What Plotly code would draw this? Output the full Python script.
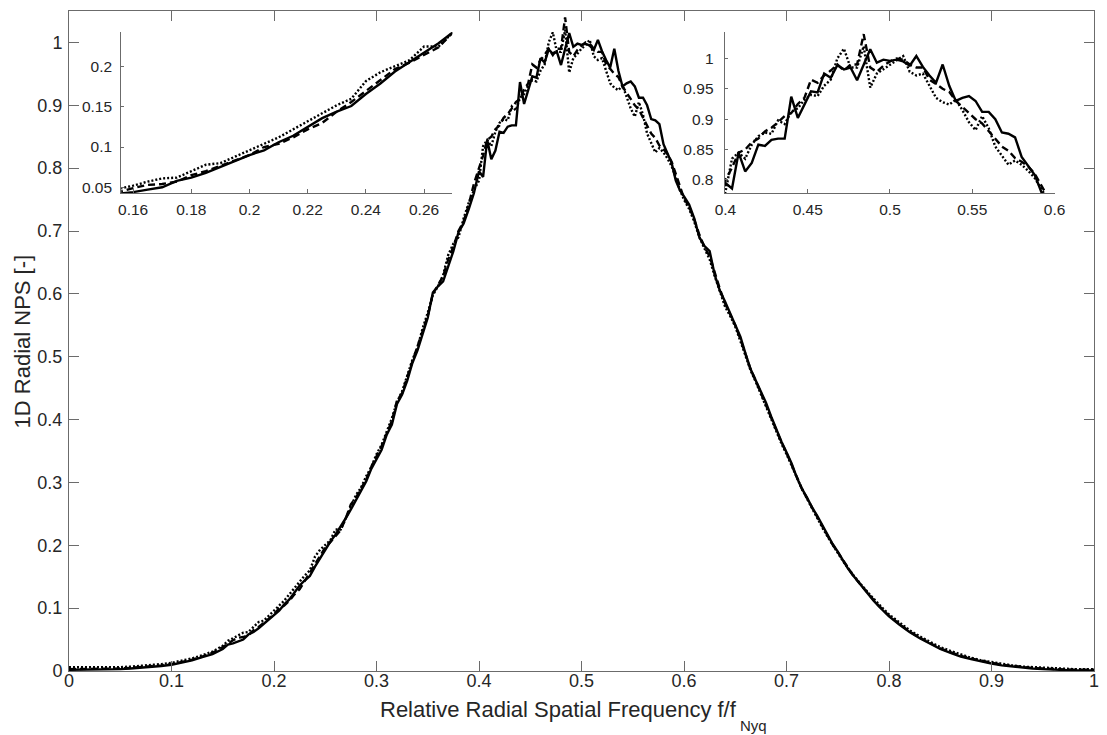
import plotly.graph_objects as go

# ---------------- frequency grids (relative radial frequency f/fNyq) ----------------
F_LOW = [0.00, 0.01, 0.02, 0.03, 0.04, 0.05, 0.06, 0.07, 0.08, 0.09, 0.10, 0.11, 0.12, 0.13, 0.14, 0.15]
F_LEFT = [0.155, 0.160, 0.165, 0.170, 0.175, 0.180, 0.185, 0.190, 0.195, 0.200, 0.205, 0.210,
          0.215, 0.220, 0.225, 0.230, 0.235, 0.240, 0.245, 0.250, 0.255, 0.260, 0.265, 0.270]
F_MID = [0.275, 0.280, 0.285, 0.290, 0.295, 0.300, 0.305, 0.310, 0.315, 0.320, 0.325, 0.330, 0.335,
         0.340, 0.345, 0.350, 0.355, 0.360, 0.365, 0.370, 0.375, 0.380, 0.385, 0.390, 0.395]
F_PEAK = [0.400, 0.404, 0.408, 0.412, 0.416, 0.420, 0.424, 0.428, 0.432, 0.436, 0.440, 0.444, 0.448,
          0.452, 0.456, 0.460, 0.464, 0.468, 0.472, 0.476, 0.480, 0.484, 0.488, 0.492, 0.496, 0.500,
          0.504, 0.508, 0.512, 0.516, 0.520, 0.524, 0.528, 0.532, 0.536, 0.540, 0.544, 0.548, 0.552,
          0.556, 0.560, 0.564, 0.568, 0.572, 0.576, 0.580, 0.584, 0.588, 0.592, 0.596, 0.600]
F_HIGH = [0.605, 0.610, 0.615, 0.620, 0.625, 0.630, 0.635, 0.640, 0.645, 0.650, 0.655, 0.660, 0.665,
          0.670, 0.675, 0.680, 0.685, 0.690, 0.695, 0.700, 0.705, 0.710, 0.715, 0.720, 0.725, 0.730,
          0.735, 0.740, 0.745, 0.750, 0.755, 0.760, 0.765, 0.770, 0.775, 0.780, 0.785, 0.790, 0.795, 0.800]
F_TAIL = [0.81, 0.82, 0.83, 0.84, 0.85, 0.86, 0.87, 0.88, 0.89, 0.90,
          0.91, 0.92, 0.93, 0.94, 0.95, 0.96, 0.97, 0.98, 0.99, 1.00]

# ---------------- series 1: solid ----------------
SOLID_LOW = [0.002, 0.002, 0.002, 0.002, 0.003, 0.003, 0.004, 0.005, 0.007, 0.008, 0.010, 0.013, 0.017, 0.022, 0.027, 0.035]
SOLID_LEFT = [0.042, 0.044, 0.047, 0.050, 0.058, 0.062, 0.068, 0.075, 0.082, 0.090, 0.096, 0.106,
              0.114, 0.125, 0.136, 0.144, 0.151, 0.166, 0.179, 0.194, 0.206, 0.217, 0.229, 0.243]
SOLID_MID = [0.257, 0.272, 0.285, 0.302, 0.322, 0.338, 0.352, 0.376, 0.392, 0.425, 0.440, 0.462, 0.490,
             0.510, 0.538, 0.562, 0.602, 0.612, 0.620, 0.645, 0.668, 0.698, 0.712, 0.735, 0.760]
SOLID_PEAK = [0.795, 0.786, 0.845, 0.814, 0.828, 0.858, 0.856, 0.866, 0.868, 0.868, 0.937, 0.902, 0.924,
              0.946, 0.944, 0.975, 0.968, 0.989, 0.982, 0.985, 0.964, 0.990, 1.015, 0.993, 0.998, 0.996,
              0.998, 0.995, 0.988, 1.004, 0.986, 0.972, 0.960, 0.990, 0.955, 0.930, 0.935, 0.938, 0.930,
              0.912, 0.912, 0.900, 0.878, 0.876, 0.870, 0.838, 0.822, 0.808, 0.780, 0.765, 0.755]
SOLID_HIGH = [0.742, 0.720, 0.690, 0.676, 0.668, 0.630, 0.605, 0.588, 0.570, 0.550, 0.532, 0.505, 0.480,
              0.462, 0.445, 0.427, 0.405, 0.384, 0.365, 0.348, 0.330, 0.308, 0.290, 0.276, 0.260, 0.247,
              0.232, 0.215, 0.202, 0.190, 0.176, 0.163, 0.152, 0.142, 0.131, 0.121, 0.112, 0.103, 0.095, 0.087]
SOLID_TAIL = [0.074, 0.062, 0.052, 0.043, 0.035, 0.029, 0.023, 0.019, 0.015, 0.012,
              0.009, 0.007, 0.005, 0.004, 0.003, 0.002, 0.002, 0.001, 0.001, 0.001]

# ---------------- series 2: dashed ----------------
DASH_LOW = [0.003, 0.003, 0.003, 0.003, 0.004, 0.004, 0.005, 0.006, 0.008, 0.009, 0.011, 0.014, 0.018, 0.023, 0.029, 0.038]
DASH_LEFT = [0.044, 0.049, 0.053, 0.054, 0.057, 0.065, 0.070, 0.077, 0.084, 0.090, 0.100, 0.104,
             0.112, 0.122, 0.130, 0.144, 0.156, 0.170, 0.183, 0.197, 0.205, 0.214, 0.224, 0.243]
DASH_MID = [0.265, 0.276, 0.290, 0.305, 0.325, 0.342, 0.358, 0.378, 0.398, 0.430, 0.442, 0.468, 0.492,
            0.515, 0.540, 0.565, 0.600, 0.615, 0.628, 0.655, 0.675, 0.700, 0.715, 0.742, 0.775]
DASH_PEAK = [0.800, 0.820, 0.845, 0.850, 0.862, 0.868, 0.880, 0.886, 0.895, 0.905, 0.910, 0.925, 0.935,
             0.965, 0.960, 0.972, 0.980, 0.990, 0.980, 0.990, 0.990, 1.040, 0.985, 0.978, 0.988, 0.995,
             1.000, 0.998, 0.990, 0.985, 0.985, 0.965, 0.958, 0.950, 0.945, 0.930, 0.920, 0.910, 0.900,
             0.893, 0.880, 0.868, 0.855, 0.848, 0.836, 0.830, 0.822, 0.810, 0.790, 0.770, 0.752]
DASH_HIGH = [0.738, 0.718, 0.694, 0.674, 0.660, 0.632, 0.608, 0.585, 0.568, 0.550, 0.528, 0.503, 0.480,
             0.462, 0.442, 0.424, 0.403, 0.382, 0.364, 0.347, 0.328, 0.307, 0.290, 0.275, 0.259, 0.245,
             0.230, 0.215, 0.201, 0.189, 0.176, 0.163, 0.152, 0.142, 0.132, 0.122, 0.113, 0.104, 0.096, 0.088]
DASH_TAIL = [0.075, 0.063, 0.053, 0.044, 0.036, 0.030, 0.024, 0.020, 0.016, 0.013,
             0.010, 0.008, 0.006, 0.005, 0.004, 0.003, 0.003, 0.002, 0.002, 0.002]

# ---------------- series 3: dotted ----------------
DOT_LOW = [0.006, 0.006, 0.005, 0.005, 0.005, 0.006, 0.007, 0.008, 0.009, 0.011, 0.013, 0.016, 0.020, 0.025, 0.031, 0.040]
DOT_LEFT = [0.048, 0.052, 0.057, 0.061, 0.062, 0.070, 0.078, 0.080, 0.088, 0.095, 0.104, 0.112,
            0.122, 0.132, 0.143, 0.152, 0.160, 0.182, 0.193, 0.200, 0.208, 0.225, 0.225, 0.243]
DOT_MID = [0.262, 0.280, 0.292, 0.310, 0.325, 0.345, 0.360, 0.380, 0.402, 0.428, 0.445, 0.470, 0.495,
           0.515, 0.545, 0.570, 0.598, 0.612, 0.630, 0.662, 0.680, 0.690, 0.720, 0.745, 0.765]
DOT_PEAK = [0.780, 0.835, 0.845, 0.835, 0.858, 0.872, 0.878, 0.876, 0.898, 0.892, 0.912, 0.918, 0.932,
            0.940, 0.938, 0.955, 0.965, 1.000, 1.016, 0.985, 0.985, 1.020, 0.952, 0.975, 0.982, 0.990,
            0.996, 1.004, 0.978, 0.972, 0.975, 0.955, 0.935, 0.928, 0.924, 0.932, 0.915, 0.895, 0.882,
            0.905, 0.885, 0.855, 0.840, 0.825, 0.832, 0.825, 0.815, 0.803, 0.785, 0.765, 0.750]
DOT_HIGH = [0.735, 0.715, 0.690, 0.672, 0.655, 0.628, 0.605, 0.580, 0.565, 0.548, 0.525, 0.500, 0.478,
            0.460, 0.440, 0.420, 0.400, 0.380, 0.362, 0.345, 0.326, 0.306, 0.290, 0.274, 0.258, 0.243,
            0.228, 0.214, 0.200, 0.188, 0.175, 0.163, 0.153, 0.143, 0.133, 0.124, 0.115, 0.106, 0.098, 0.090]
DOT_TAIL = [0.077, 0.065, 0.055, 0.046, 0.038, 0.032, 0.026, 0.021, 0.017, 0.014,
            0.011, 0.009, 0.007, 0.006, 0.005, 0.004, 0.004, 0.003, 0.003, 0.003]

# tick labels
MAIN_TICKS = [0, 0.1, 0.2, 0.3, 0.4, 0.5, 0.6, 0.7, 0.8, 0.9, 1]
INSET1_XTICKS = [0.16, 0.18, 0.2, 0.22, 0.24, 0.26]
INSET1_YTICKS = [0.05, 0.1, 0.15, 0.2]
INSET2_XTICKS = [0.4, 0.45, 0.5, 0.55, 0.6]
INSET2_YTICKS = [0.8, 0.85, 0.9, 0.95, 1]

FREQ = F_LOW + F_LEFT + F_MID + F_PEAK + F_HIGH + F_TAIL
SERIES = [
    ("solid", SOLID_LOW + SOLID_LEFT + SOLID_MID + SOLID_PEAK + SOLID_HIGH + SOLID_TAIL, "solid"),
    ("dashed", DASH_LOW + DASH_LEFT + DASH_MID + DASH_PEAK + DASH_HIGH + DASH_TAIL, "7px,4px"),
    ("dotted", DOT_LOW + DOT_LEFT + DOT_MID + DOT_PEAK + DOT_HIGH + DOT_TAIL, "2px,2px"),
]
for _, v, _d in SERIES:
    assert len(v) == len(FREQ)

FONT = "Liberation Sans, Arial, Helvetica, sans-serif"
TXT = "#262626"
AX = "#6b6b6b"

fig = go.Figure()
for xa, ya in (("x", "y"), ("x2", "y2"), ("x3", "y3")):
    for name, vals, dash in SERIES:
        fig.add_trace(go.Scatter(x=FREQ, y=vals, mode="lines", name=name, xaxis=xa, yaxis=ya,
                                 line=dict(color="black", width=2.4, dash=dash),
                                 showlegend=False, hoverinfo="skip"))

W, H = 1107, 735
L, R, T, B = 69, 3, 11, 64
pw, ph = W - L - R, H - T - B

def px_x(p):
    return (p - L) / pw

def px_y(p):
    return (H - B - p) / ph

common = dict(showgrid=False, zeroline=False, showline=True, linecolor=AX, linewidth=1,
              ticks="inside", tickcolor=AX)
main_font = dict(family=FONT, color=TXT, size=18)
inset_font = dict(family=FONT, color=TXT, size=15.5)

fig.update_layout(
    width=W, height=H,
    margin=dict(l=L, r=R, t=T, b=B),
    paper_bgcolor="white", plot_bgcolor="white",
    font=dict(family=FONT, color=TXT),
    xaxis=dict(range=[0, 1], tickvals=MAIN_TICKS, ticklen=10, mirror="ticks",
               ticklabelstandoff=-7, tickfont=main_font, **common),
    yaxis=dict(range=[0, 1.05], tickvals=MAIN_TICKS, ticklen=10, mirror="ticks",
               ticklabelstandoff=2, tickfont=main_font, **common),
    xaxis2=dict(domain=[px_x(121.7), px_x(456)], anchor="y2", range=[0.1559, 0.2697],
                tickvals=INSET1_XTICKS, ticklen=4, ticklabelstandoff=2, tickfont=inset_font, **common),
    yaxis2=dict(domain=[px_y(193.3), px_y(32.3)], anchor="x2", range=[0.0425, 0.2427],
                tickvals=INSET1_YTICKS, ticklen=3, ticklabelstandoff=5, tickfont=inset_font, **common),
    xaxis3=dict(domain=[px_x(731), px_x(1065)], anchor="y3", range=[0.3995, 0.6005],
                tickvals=INSET2_XTICKS, ticklen=4, ticklabelstandoff=2, tickfont=inset_font, **common),
    yaxis3=dict(domain=[px_y(193.3), px_y(32.3)], anchor="x3", range=[0.778, 1.043],
                tickvals=INSET2_YTICKS, ticklen=3, ticklabelstandoff=7, tickfont=inset_font, **common),
    annotations=[
        dict(text="Relative Radial Spatial Frequency f/f", xref="paper", yref="paper",
             x=px_x(746), y=px_y(709), xanchor="right", yanchor="middle", showarrow=False,
             font=dict(family=FONT, size=22, color=TXT)),
        dict(text="Nyq", xref="paper", yref="paper",
             x=px_x(745), y=px_y(725), xanchor="left", yanchor="middle", showarrow=False,
             font=dict(family=FONT, size=15, color=TXT)),
        dict(text="1D Radial NPS [-]", xref="paper", yref="paper", x=px_x(22), y=0.5,
             xanchor="center", yanchor="middle", textangle=-90, showarrow=False,
             font=dict(family=FONT, size=22, color=TXT)),
    ],
)

fig.write_html("out.html")
